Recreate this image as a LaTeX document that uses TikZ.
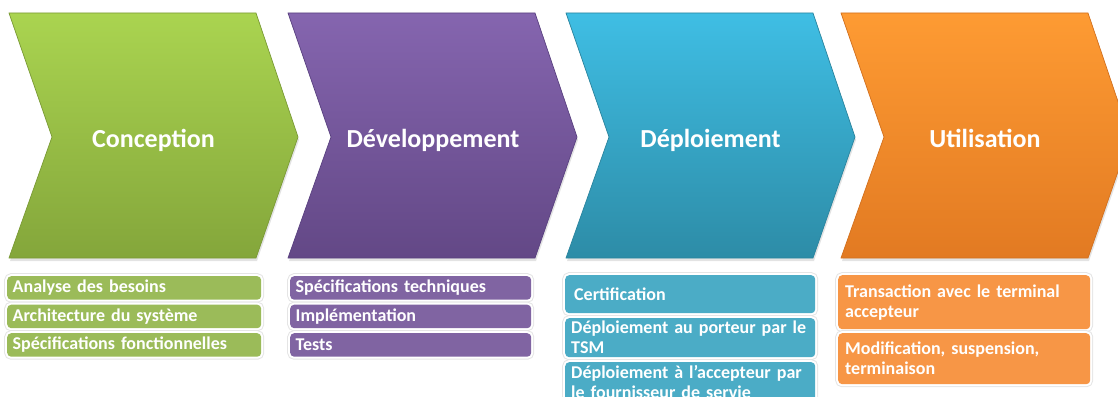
\documentclass[tikz,border=0pt]{standalone}
\usepackage{fontspec}
\setmainfont{Carlito}
\usetikzlibrary{shadows}
\definecolor{gTop}{HTML}{AAD450}
\definecolor{gBot}{HTML}{84A63B}
\definecolor{gEdge}{HTML}{7A9A35}
\definecolor{gBox}{HTML}{9BBB59}
\definecolor{pTop}{HTML}{8565AF}
\definecolor{pBot}{HTML}{634886}
\definecolor{pEdge}{HTML}{5A4180}
\definecolor{pBox}{HTML}{8064A2}
\definecolor{cTop}{HTML}{3FBEE4}
\definecolor{cBot}{HTML}{2D8CA7}
\definecolor{cEdge}{HTML}{2A849E}
\definecolor{cBox}{HTML}{4BACC6}
\definecolor{oTop}{HTML}{FE9B33}
\definecolor{oBot}{HTML}{E27A22}
\definecolor{oEdge}{HTML}{D2701E}
\definecolor{oBox}{HTML}{F79646}
\tikzset{
  chev/.style={line width=0.7pt,
    drop shadow={shadow xshift=1pt, shadow yshift=-3pt, opacity=0.22}},
  title/.style={text=white, font=\bfseries\fontsize{26}{31}\selectfont,
    anchor=base, inner sep=0pt},
  item/.style={rounded corners=4pt, text=white,
    font=\bfseries\fontsize{18}{20}\selectfont, align=left,
    inner ysep=0pt, anchor=north west,
    preaction={draw=black!10, line width=6pt},
    preaction={draw=white, line width=4pt}},
}
\newcommand{\chevronpath}[1]{(#1,13) -- ++(247,0) -- ++(42,124) -- ++(-42,121) -- ++(-247,0) -- ++(43,-121) -- cycle}
\begin{document}
\begin{tikzpicture}[x=1pt, y=-1pt]
\useasboundingbox (0,0) rectangle (1118,396);
\clip (0,0) rectangle (1118,396);
% chevrons
\path[chev, draw=gEdge, top color=gTop, bottom color=gBot] \chevronpath{9};
\path[chev, draw=pEdge, top color=pTop, bottom color=pBot] \chevronpath{288};
\path[chev, draw=cEdge, top color=cTop, bottom color=cBot] \chevronpath{566};
\path[chev, draw=oEdge, top color=oTop, bottom color=oBot] \chevronpath{841};
\node[title] (tconc) at (153.5,147) {Conception};
\node[title] (tdev) at (433,147) {Développement};
\node[title] (tdep) at (710.5,147) {Déploiement};
\node[title] (tuti) at (985,147) {Utilisation};
% green items
\node[item, fill=gBox, minimum width=254pt, minimum height=23.5pt, text width=243pt, inner xsep=5.5pt] (g1) at (7,276) {Analyse des besoins};
\node[item, fill=gBox, minimum width=254pt, minimum height=23.5pt, text width=243pt, inner xsep=5.5pt] (g2) at (7,304.5) {Architecture du système};
\node[item, fill=gBox, minimum width=254pt, minimum height=23.5pt, text width=243pt, inner xsep=5.5pt] (g3) at (7,333) {Spécifications fonctionnelles};
% purple items
\node[item, fill=pBox, minimum width=241pt, minimum height=23.5pt, text width=230pt, inner xsep=5.5pt] (p1) at (290,276) {Spécifications techniques};
\node[item, fill=pBox, minimum width=241pt, minimum height=23.5pt, text width=230pt, inner xsep=5.5pt] (p2) at (290,304.5) {Implémentation};
\node[item, fill=pBox, minimum width=241pt, minimum height=23.5pt, text width=230pt, inner xsep=5.5pt] (p3) at (290,333) {Tests};
% cyan items
\node[item, fill=cBox, minimum width=250pt, minimum height=38pt, text width=232pt, inner xsep=9pt] (c1) at (565,275) {Certification};
\node[item, fill=cBox, minimum width=250pt, minimum height=39pt, text width=238pt, inner xsep=6pt] (c2) at (565,318) {Déploiement au porteur par le\\TSM};
\node[item, fill=cBox, minimum width=250pt, minimum height=39pt, text width=238pt, inner xsep=6pt] (c3) at (565,362) {Déploiement à l’accepteur par\\le fournisseur de servie};
% orange items
\node[item, fill=oBox, minimum width=252pt, minimum height=54pt, text width=238pt, inner xsep=7pt] (o1) at (838,275) {Transaction avec le terminal\\accepteur};
\node[item, fill=oBox, minimum width=252pt, minimum height=51pt, text width=238pt, inner xsep=7pt] (o2) at (838,333) {Modification, suspension,\\terminaison};
\end{tikzpicture}
\end{document}
